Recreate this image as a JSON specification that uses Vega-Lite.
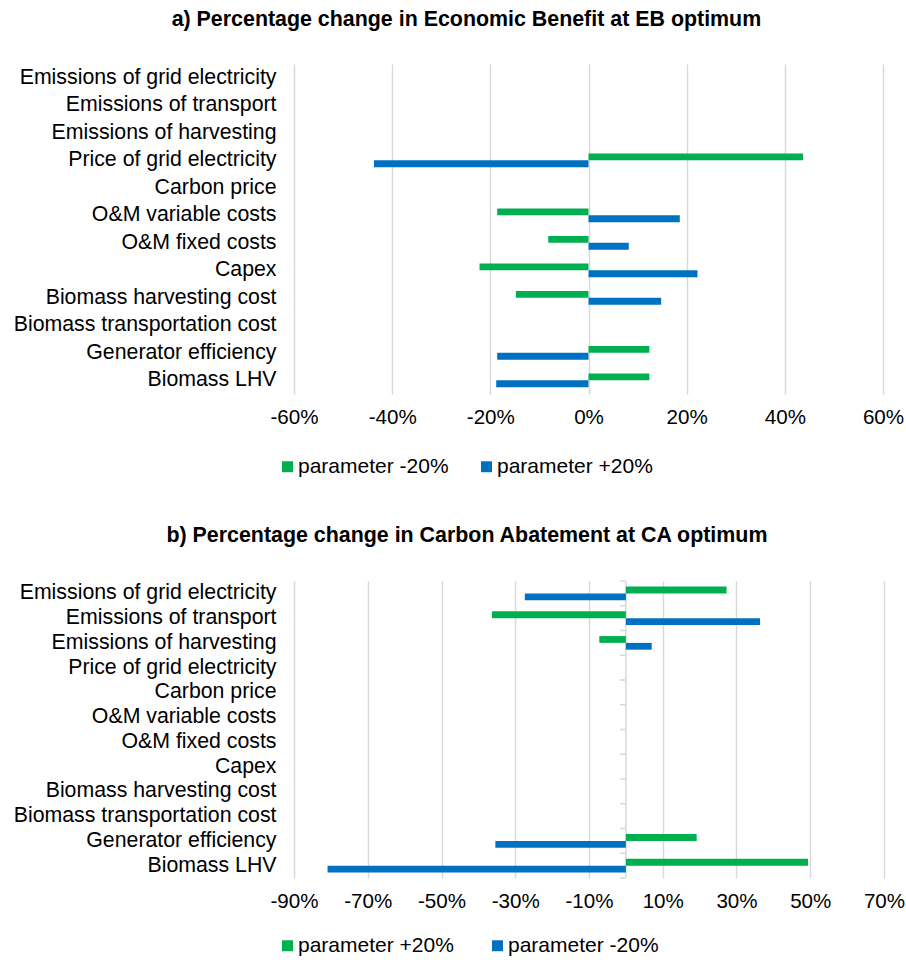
{
  "$schema": "https://vega.github.io/schema/vega-lite/v6.json",
  "background": "white",
  "padding": {"left": 13, "top": 8, "right": 0, "bottom": 0},
  "config": {
    "font": "Liberation Sans",
    "view": {"stroke": null},
    "title": {"font": "Liberation Sans", "fontSize": 21.4, "fontWeight": "bold", "color": "#000000", "anchor": "middle", "frame": "bounds", "offset": 34, "dx": 8},
    "axis": {"labelFont": "Liberation Sans", "labelColor": "#000000", "ticks": false, "domain": false, "gridColor": "#d9d9d9", "gridWidth": 1.5, "title": null, "labelLimit": 0, "labelFlush": false, "labelOverlap": false},
    "legend": {"labelFont": "Liberation Sans", "labelFontSize": 21, "labelColor": "#000000", "symbolType": "square", "symbolSize": 120, "symbolStrokeWidth": 0, "labelOffset": 0, "padding": 0, "direction": "horizontal", "orient": "none", "title": null, "labelLimit": 0},
    "concat": {"spacing": 47}
  },
  "datasets": {
    "eb": [
      {"parameter": "Emissions of grid electricity", "series": "parameter -20%", "value": 0},
      {"parameter": "Emissions of grid electricity", "series": "parameter +20%", "value": 0},
      {"parameter": "Emissions of transport", "series": "parameter -20%", "value": 0},
      {"parameter": "Emissions of transport", "series": "parameter +20%", "value": 0},
      {"parameter": "Emissions of harvesting", "series": "parameter -20%", "value": 0},
      {"parameter": "Emissions of harvesting", "series": "parameter +20%", "value": 0},
      {"parameter": "Price of grid electricity", "series": "parameter -20%", "value": 0.437},
      {"parameter": "Price of grid electricity", "series": "parameter +20%", "value": -0.437},
      {"parameter": "Carbon price", "series": "parameter -20%", "value": 0},
      {"parameter": "Carbon price", "series": "parameter +20%", "value": 0},
      {"parameter": "O&M variable costs", "series": "parameter -20%", "value": -0.186},
      {"parameter": "O&M variable costs", "series": "parameter +20%", "value": 0.186},
      {"parameter": "O&M fixed costs", "series": "parameter -20%", "value": -0.082},
      {"parameter": "O&M fixed costs", "series": "parameter +20%", "value": 0.082},
      {"parameter": "Capex", "series": "parameter -20%", "value": -0.222},
      {"parameter": "Capex", "series": "parameter +20%", "value": 0.222},
      {"parameter": "Biomass harvesting cost", "series": "parameter -20%", "value": -0.148},
      {"parameter": "Biomass harvesting cost", "series": "parameter +20%", "value": 0.148},
      {"parameter": "Biomass transportation cost", "series": "parameter -20%", "value": 0},
      {"parameter": "Biomass transportation cost", "series": "parameter +20%", "value": 0},
      {"parameter": "Generator efficiency", "series": "parameter -20%", "value": 0.124},
      {"parameter": "Generator efficiency", "series": "parameter +20%", "value": -0.186},
      {"parameter": "Biomass LHV", "series": "parameter -20%", "value": 0.124},
      {"parameter": "Biomass LHV", "series": "parameter +20%", "value": -0.188}
    ],
    "ca": [
      {"parameter": "Emissions of grid electricity", "series": "parameter +20%", "value": 0.273},
      {"parameter": "Emissions of grid electricity", "series": "parameter -20%", "value": -0.274},
      {"parameter": "Emissions of transport", "series": "parameter +20%", "value": -0.363},
      {"parameter": "Emissions of transport", "series": "parameter -20%", "value": 0.364},
      {"parameter": "Emissions of harvesting", "series": "parameter +20%", "value": -0.072},
      {"parameter": "Emissions of harvesting", "series": "parameter -20%", "value": 0.070},
      {"parameter": "Price of grid electricity", "series": "parameter +20%", "value": 0},
      {"parameter": "Price of grid electricity", "series": "parameter -20%", "value": 0},
      {"parameter": "Carbon price", "series": "parameter +20%", "value": 0},
      {"parameter": "Carbon price", "series": "parameter -20%", "value": 0},
      {"parameter": "O&M variable costs", "series": "parameter +20%", "value": 0},
      {"parameter": "O&M variable costs", "series": "parameter -20%", "value": 0},
      {"parameter": "O&M fixed costs", "series": "parameter +20%", "value": 0},
      {"parameter": "O&M fixed costs", "series": "parameter -20%", "value": 0},
      {"parameter": "Capex", "series": "parameter +20%", "value": 0},
      {"parameter": "Capex", "series": "parameter -20%", "value": 0},
      {"parameter": "Biomass harvesting cost", "series": "parameter +20%", "value": 0},
      {"parameter": "Biomass harvesting cost", "series": "parameter -20%", "value": 0},
      {"parameter": "Biomass transportation cost", "series": "parameter +20%", "value": 0},
      {"parameter": "Biomass transportation cost", "series": "parameter -20%", "value": 0},
      {"parameter": "Generator efficiency", "series": "parameter +20%", "value": 0.192},
      {"parameter": "Generator efficiency", "series": "parameter -20%", "value": -0.354},
      {"parameter": "Biomass LHV", "series": "parameter +20%", "value": 0.494},
      {"parameter": "Biomass LHV", "series": "parameter -20%", "value": -0.809}
    ],
    "zero": [{"zero": 0}],
    "cats": [
      {"parameter": "Emissions of grid electricity"},
      {"parameter": "Emissions of transport"},
      {"parameter": "Emissions of harvesting"},
      {"parameter": "Price of grid electricity"},
      {"parameter": "Carbon price"},
      {"parameter": "O&M variable costs"},
      {"parameter": "O&M fixed costs"},
      {"parameter": "Capex"},
      {"parameter": "Biomass harvesting cost"},
      {"parameter": "Biomass transportation cost"},
      {"parameter": "Generator efficiency"},
      {"parameter": "Biomass LHV"}
    ]
  },
  "vconcat": [
    {
      "title": "a) Percentage change in Economic Benefit at EB optimum",
      "width": 589,
      "height": 330,
      "data": {"name": "eb"},
      "mark": {"type": "bar"},
      "encoding": {
        "y": {"field": "parameter", "type": "nominal",
          "sort": ["Emissions of grid electricity", "Emissions of transport", "Emissions of harvesting", "Price of grid electricity", "Carbon price", "O&M variable costs", "O&M fixed costs", "Capex", "Biomass harvesting cost", "Biomass transportation cost", "Generator efficiency", "Biomass LHV"],
          "scale": {"paddingInner": 0.5, "paddingOuter": 0.25},
          "axis": {"labelPadding": 18, "labelFontSize": 21.3, "grid": false}},
        "yOffset": {"field": "series", "type": "nominal", "sort": ["parameter -20%", "parameter +20%"]},
        "x": {"field": "value", "type": "quantitative",
          "scale": {"domain": [-0.6, 0.6], "nice": false, "zero": false},
          "axis": {"values": [-0.6, -0.4, -0.2, 0, 0.2, 0.4, 0.6], "grid": true, "labelFontSize": 20.6, "labelPadding": 13,
            "labelExpr": "(datum.value < 0 ? '-' : '') + format(abs(datum.value), '.0%')"}},
        "color": {"field": "series", "type": "nominal",
          "scale": {"domain": ["parameter -20%", "parameter +20%"], "range": ["#00B050", "#0070C0"]},
          "legend": {"legendX": -17, "legendY": 392, "columnPadding": 27}}
      }
    },
    {
      "title": "b) Percentage change in Carbon Abatement at CA optimum",
      "width": 590,
      "height": 297,
      "layer": [
        {
          "data": {"name": "zero"},
          "mark": {"type": "rule", "color": "#d9d9d9", "strokeWidth": 1.5},
          "encoding": {"x": {"field": "zero", "type": "quantitative"}}
        },
        {
          "data": {"name": "cats"},
          "mark": {"type": "rule", "color": "#d9d9d9", "strokeWidth": 1.5},
          "encoding": {
            "y": {"field": "parameter", "type": "nominal", "bandPosition": -0.409,
              "sort": ["Emissions of grid electricity", "Emissions of transport", "Emissions of harvesting", "Price of grid electricity", "Carbon price", "O&M variable costs", "O&M fixed costs", "Capex", "Biomass harvesting cost", "Biomass transportation cost", "Generator efficiency", "Biomass LHV"]},
            "x": {"datum": -0.016, "type": "quantitative"},
            "x2": {"datum": 0}
          }
        },
        {
          "data": {"name": "cats"},
          "transform": [{"filter": "datum.parameter === 'Biomass LHV'"}],
          "mark": {"type": "rule", "color": "#d9d9d9", "strokeWidth": 1.5},
          "encoding": {
            "y": {"field": "parameter", "type": "nominal", "bandPosition": 1.409,
              "sort": ["Emissions of grid electricity", "Emissions of transport", "Emissions of harvesting", "Price of grid electricity", "Carbon price", "O&M variable costs", "O&M fixed costs", "Capex", "Biomass harvesting cost", "Biomass transportation cost", "Generator efficiency", "Biomass LHV"]},
            "x": {"datum": -0.016, "type": "quantitative"},
            "x2": {"datum": 0}
          }
        },
        {
          "data": {"name": "ca"},
          "mark": {"type": "bar"},
          "encoding": {
            "y": {"field": "parameter", "type": "nominal",
              "sort": ["Emissions of grid electricity", "Emissions of transport", "Emissions of harvesting", "Price of grid electricity", "Carbon price", "O&M variable costs", "O&M fixed costs", "Capex", "Biomass harvesting cost", "Biomass transportation cost", "Generator efficiency", "Biomass LHV"],
              "scale": {"paddingInner": 0.45, "paddingOuter": 0.225},
              "axis": {"labelPadding": 18, "labelFontSize": 21.3, "grid": false}},
            "yOffset": {"field": "series", "type": "nominal", "sort": ["parameter +20%", "parameter -20%"]},
            "x": {"field": "value", "type": "quantitative",
              "scale": {"domain": [-0.9, 0.7], "nice": false, "zero": false},
              "axis": {"values": [-0.9, -0.7, -0.5, -0.3, -0.1, 0.1, 0.3, 0.5, 0.7], "grid": true, "labelFontSize": 20.6, "labelPadding": 13,
                "labelExpr": "(datum.value < 0 ? '-' : '') + format(abs(datum.value), '.0%')"}},
            "color": {"field": "series", "type": "nominal",
              "scale": {"domain": ["parameter +20%", "parameter -20%"], "range": ["#00B050", "#0070C0"]},
              "legend": {"legendX": -17, "legendY": 354, "columnPadding": 33}}
          }
        }
      ]
    }
  ],
  "resolve": {"scale": {"color": "independent", "x": "independent", "y": "independent", "yOffset": "independent"}, "legend": {"color": "independent"}}
}
